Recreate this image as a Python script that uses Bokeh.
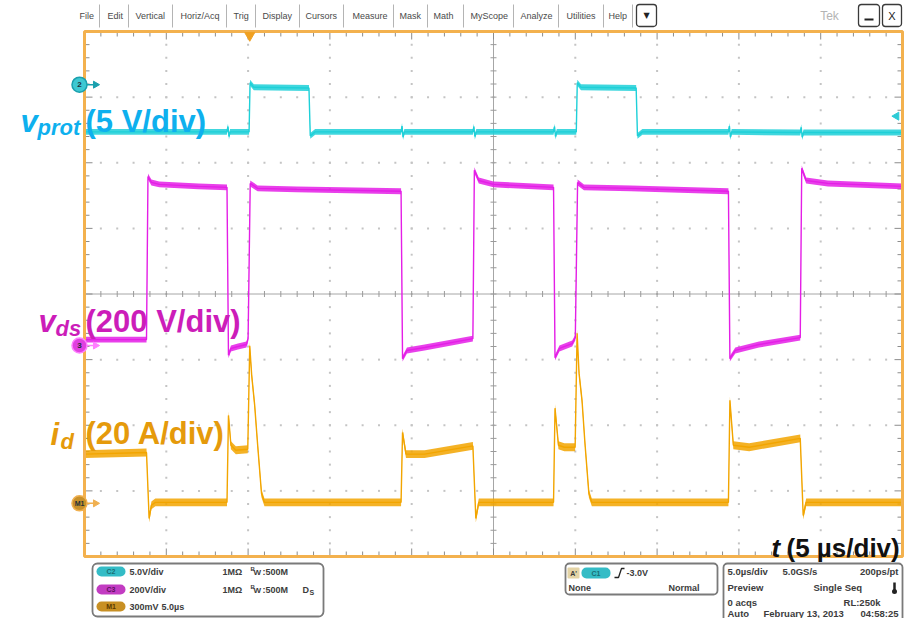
import numpy as np
from bokeh.plotting import figure
from bokeh.models import Range1d
from bokeh.core.properties import value
from bokeh.embed import file_html
from bokeh.resources import INLINE

# ---------------- data ----------------
US_PER_DIV = 5.0            # 5 us/div
N_XDIV, N_YDIV = 10, 8

# C2 : v_prot, 5 V/div, ground marker position (div)
vprot_vdiv, vprot_pos = 5.0, 3.19
vprot_t = [0, 8.70, 8.77, 8.83, 8.90, 10.06, 10.12, 10.35, 13.72, 13.80, 14.10,
           19.35, 19.41, 19.47, 19.55, 23.74, 23.80, 23.86, 23.95, 28.67, 28.73,
           28.79, 28.87, 30.06, 30.12, 30.35, 33.72, 33.80, 34.10, 39.36, 39.42,
           39.48, 39.56, 43.75, 43.81, 43.87, 43.95, 50.0]
vprot_v = [-3.6, -3.6, -3.2, -3.95, -3.6, -3.6, 0.15, -0.2, -0.25, -3.9, -3.6,
           -3.6, -3.15, -4.0, -3.6, -3.6, -3.2, -3.95, -3.6, -3.6, -3.2,
           -3.95, -3.6, -3.6, 0.15, -0.2, -0.25, -3.9, -3.6, -3.6, -3.15,
           -4.0, -3.6, -3.65, -3.25, -4.0, -3.65, -3.65]

# C3 : v_ds, 200 V/div
vds_vdiv, vds_pos = 200.0, -0.785
vds_t = [0, 3.79, 3.88, 4.09, 4.57, 6.97, 8.71, 8.80, 8.95, 9.38, 9.90, 10.00,
         10.13, 10.58, 12.98, 19.35, 19.44, 19.71, 20.79, 23.74, 23.83, 24.10,
         25.00, 28.67, 28.76, 29.03, 29.81, 30.00, 30.14, 30.53, 33.41, 39.36,
         39.45, 39.78, 41.23, 43.75, 43.84, 44.11, 45.43, 50.0]
vds_v = [18, 18, 515, 497, 491, 485, 482, -30, -9, -3, 3, 21,
         494, 479, 476, 470, -40, -15, -6, 21, 534, 503,
         491, 482, -37, -9, 6, 24, 497, 482, 479, 470,
         -40, -15, 3, 24, 540, 503, 494, 485]

# M1 : i_d, 20 A/div
id_adiv, id_pos = 20.0, -3.19
id_t = [0, 3.79, 3.95, 4.09, 4.33, 8.71, 8.80, 8.95, 9.25, 9.98, 10.10, 10.22,
        10.40, 10.58, 10.82, 11.00, 19.35, 19.44, 19.65, 20.79, 23.74, 23.92,
        24.10, 28.67, 28.76, 28.97, 29.33, 29.99, 30.11, 30.23, 30.41, 30.59,
        30.83, 31.01, 39.36, 39.45, 39.66, 40.63, 43.75, 43.93, 44.11, 50.0]
id_a = [15.0, 15.5, -4.6, -0.6, 0.3, 0.3, 26.8, 17.7, 16.2, 16.5, 48.0, 39.0,
        30.0, 18.0, 3.0, 0.3, 0.3, 21.6, 15.0, 15.0, 17.5, -4.6,
        0.3, 0.3, 29.0, 17.7, 17.1, 17.1, 51.8, 39.6, 31.4, 18.3,
        3.0, 0.3, 0.3, 31.4, 17.7, 17.1, 19.8, -3.7, 0.3, 0.3]

trig_time = 10.1     # us
trig_level = -2.4    # V on C2

menu_items = ["File", "Edit", "Vertical", "Horiz/Acq", "Trig", "Display", "Cursors",
              "Measure", "Mask", "Math", "MyScope", "Analyze", "Utilities", "Help"]

# ---------------- layout ----------------
W, H = 904, 618
GRAT_L, GRAT_R = 84.0, 902.0
PX_PER_US = (GRAT_R - GRAT_L) / (N_XDIV * US_PER_DIV)
PX_PER_DIV = 65.625
X0, YC = GRAT_L, 293.5

def fx(px): return (px - X0) / PX_PER_US
def fy(py): return (YC - py) / PX_PER_DIV
def dx(px): return px / PX_PER_US
def dy(px): return px / PX_PER_DIV

p = figure(width=W, height=H, x_range=Range1d(fx(0), fx(W)),
           y_range=Range1d(fy(H), fy(0)), output_backend="svg",
           toolbar_location=None, x_axis_location=None, y_axis_location=None,
           min_border=0)
p.outline_line_color = None
p.background_fill_color = "white"
p.border_fill_color = "white"
for g in p.grid:
    g.visible = False

FONT = "Liberation Sans"

def txt(px, py, s, size, color="#3c3c3c", style="normal", align="left", baseline="middle", font=FONT):
    p.text(x=[fx(px)], y=[fy(py)], text=[s], text_font=value(font),
           text_font_size=f"{size}px", text_font_style=style, text_color=color,
           text_align=align, text_baseline=baseline)

def box(l, r, t, b, line="#7a7a7a", fill="white", radius=0, lw=1.5):
    p.quad(left=[fx(l)], right=[fx(r)], top=[fy(t)], bottom=[fy(b)],
           fill_color=fill, line_color=line, line_width=lw, border_radius=radius)

T_END = N_XDIV * US_PER_DIV
YT = N_YDIV / 2
xs_minor = np.arange(0, T_END + 1e-9, US_PER_DIV / 5)
ys_minor = np.arange(-YT, YT + 1e-9, 0.2)

# dotted graticule
gx, gy = [], []
for k in range(1, N_XDIV):
    if k == N_XDIV // 2:
        continue
    for yy in ys_minor[1:-1]:
        gx.append(k * US_PER_DIV); gy.append(yy)
for j in range(-int(YT) + 1, int(YT)):
    if j == 0:
        continue
    for xx in xs_minor[1:-1]:
        gx.append(xx); gy.append(j)
p.scatter(gx, gy, marker="square", size=2, fill_color="#c4c4c4", line_color=None)

# center cross
p.segment(x0=[0, T_END / 2], y0=[0, -YT], x1=[T_END, T_END / 2], y1=[0, YT],
          line_color="#a6a6a6", line_width=1)
cx = xs_minor[1:-1]
p.segment(x0=cx, y0=[-dy(3)] * len(cx), x1=cx, y1=[dy(3)] * len(cx), line_color="#9a9a9a", line_width=1)
cy = ys_minor[1:-1]
p.segment(x0=[T_END / 2 - dx(3)] * len(cy), y0=cy, x1=[T_END / 2 + dx(3)] * len(cy), y1=cy,
          line_color="#9a9a9a", line_width=1)

# edge ticks
def tlen_x(v):
    return dy(8) if abs(v / US_PER_DIV - round(v / US_PER_DIV)) < 1e-6 else dy(5)
def tlen_y(v):
    return dx(8) if abs(v - round(v)) < 1e-6 else dx(5)
ex0, ey0, ex1, ey1 = [], [], [], []
for xx in xs_minor[1:-1]:
    L = tlen_x(xx)
    ex0 += [xx, xx]; ey0 += [YT, -YT]; ex1 += [xx, xx]; ey1 += [YT - L, -YT + L]
for yy in ys_minor[1:-1]:
    L = tlen_y(yy)
    ex0 += [0, T_END]; ey0 += [yy, yy]; ex1 += [L, T_END - L]; ey1 += [yy, yy]
p.segment(x0=ex0, y0=ey0, x1=ex1, y1=ey1, line_color="#8c8c8c", line_width=1)

# ---------------- traces ----------------
def trace(t, vals, scale, pos, color, half):
    y = pos + np.asarray(vals, dtype=float) / scale
    t = np.asarray(t, dtype=float)
    p.varea(x=t, y1=y - half, y2=y + half, fill_color=color, fill_alpha=0.85)
    p.line(t, y, line_color=color, line_width=1.4)

trace(vprot_t, vprot_v, vprot_vdiv, vprot_pos, "#1ed0d8", 0.045)
trace(vds_t, vds_v, vds_vdiv, vds_pos, "#e41ee6", 0.045)
trace(id_t, id_a, id_adiv, id_pos, "#f2a500", 0.06)

# frame border
p.quad(left=[0], right=[T_END], bottom=[-YT], top=[YT], fill_color=None,
       line_color="#f3b14e", line_width=3)

# trigger position marker
p.scatter([trig_time], [YT - dy(4)], marker="inverted_triangle", size=10,
          fill_color="#f0a020", line_color="#f0a020")
# trigger level marker (right edge)
p.scatter([T_END - dx(6)], [vprot_pos + trig_level / vprot_vdiv], marker="triangle",
          angle=np.pi / 2, size=8, fill_color="#2ccbd6", line_color="#2ccbd6")

# channel ground markers
for pos, fill, edge, lab, fs in [(vprot_pos, "#3ec8d2", "#1aa0ae", "2", 8),
                                 (vds_pos, "#e040e0", "#ff80ff", "3", 8),
                                 (id_pos, "#c8902a", "#f0b050", "M1", 7)]:
    p.segment(x0=[fx(84)], y0=[pos], x1=[fx(93)], y1=[pos], line_color=edge, line_width=1.5)
    p.scatter([fx(95)], [pos], marker="triangle", angle=-np.pi / 2, size=7,
              fill_color=edge, line_color=edge)
    p.scatter([fx(79)], [pos], marker="circle", size=15, fill_color=fill,
              line_color=edge, line_width=1.5)
    p.text(x=[fx(79)], y=[pos], text=[lab], text_font=value(FONT), text_font_size=f"{fs}px",
           text_font_style="bold", text_color="#20303a", text_align="center", text_baseline="middle")

# ---------------- big labels ----------------
C_PROT, C_DS, C_ID = "#0eb0ee", "#cc1db9", "#e59a0b"
txt(20, 121, "v", 31, C_PROT, "bold italic", baseline="alphabetic")
txt(37, 127, "prot", 22, C_PROT, "bold italic", baseline="alphabetic")
txt(85, 121, "(5 V/div)", 31, C_PROT, "bold", baseline="alphabetic")

txt(38, 321, "v", 31, C_DS, "bold italic", baseline="alphabetic")
txt(55, 328, "ds", 22, C_DS, "bold italic", baseline="alphabetic")
txt(85, 321, "(200 V/div)", 31, C_DS, "bold", baseline="alphabetic")

txt(50, 434, "i", 31, C_ID, "bold italic", baseline="alphabetic")
txt(60, 441, "d", 22, C_ID, "bold italic", baseline="alphabetic")
txt(85, 433, "(20 A/div)", 31, C_ID, "bold", baseline="alphabetic")

txt(771, 547, "t", 26, "#111111", "bold italic", baseline="alphabetic")
txt(786, 547, "(5 \u00b5s/div)", 26, "#111111", "bold", baseline="alphabetic")

# ---------------- menu bar ----------------
menu_x = [79, 107, 135, 180, 233, 262, 305, 352, 399, 433, 470, 520, 566, 608]
sep_x = [99, 128, 172, 226, 255, 299, 343, 393, 427, 463, 513, 558, 603, 632]
for name, mx in zip(menu_items, menu_x):
    txt(mx, 15, name, 9, "#4a4a4a")
p.segment(x0=[fx(s) for s in sep_x], y0=[fy(4)] * len(sep_x), x1=[fx(s) for s in sep_x],
          y1=[fy(27)] * len(sep_x), line_color="#b4b4b4", line_width=1)
box(636, 656, 4, 26, line="#3a3a3a", radius=3, lw=1.3)
txt(646, 15, "\u25bc", 8, "#222222", align="center", font="DejaVu Sans")
txt(829, 15, "Tek", 12, "#b4b4b4", align="center")
box(858, 879, 4, 26, line="#3a3a3a", radius=3, lw=1.3)
p.segment(x0=[fx(864)], y0=[fy(19)], x1=[fx(873)], y1=[fy(19)], line_color="#222222", line_width=2)
box(882, 901, 4, 26, line="#3a3a3a", radius=3, lw=1.3)
txt(891.5, 15, "X", 11, "#222222", align="center")

# ---------------- bottom info panel ----------------
box(92, 323, 563, 616, line="#7a7a7a", radius=5, lw=1.8)
rows1 = [571, 589, 606]
for ry, fill, tcol, lab in [(rows1[0], "#34bcc6", "#1b6e74", "C2"),
                            (rows1[1], "#c23cc2", "#5e105e", "C3"),
                            (rows1[2], "#c89024", "#5a3a00", "M1")]:
    box(96, 125, ry - 5, ry + 5, line=None, fill=fill, radius=5)
    txt(110.5, ry, lab, 7, tcol, "bold", align="center")
txt(129, rows1[0], "5.0V/div", 9, style="bold")
txt(129, rows1[1], "200V/div", 9, style="bold")
txt(129, rows1[2], "300mV", 9, style="bold")
txt(161, rows1[2], "5.0\u00b5s", 9, style="bold")
for ry in rows1[:2]:
    txt(222, ry, "1M\u03a9", 9, style="bold")
    txt(250, ry - 3, "B", 6, style="bold")
    txt(253, ry + 1, "W", 8, style="bold")
    txt(262, ry, ":500M", 9, style="bold")
txt(302, rows1[1], "D", 9, style="bold")
txt(309, rows1[1] + 3, "S", 7, style="bold")

box(565, 717, 563, 594, line="#7a7a7a", radius=4, lw=1.8)
box(567, 579, 567, 578, line=None, fill="#e4d4a6", radius=1)
txt(573, 572.5, "A'", 7, "#3a3a3a", "bold", align="center")
box(581, 610, 567, 578, line=None, fill="#34bcc6", radius=5)
txt(595.5, 572.5, "C1", 7, "#1b6e74", "bold", align="center")
p.line([fx(614), fx(618), fx(621), fx(624)], [fy(577), fy(577), fy(568), fy(568)],
       line_color="#222222", line_width=1.3)
txt(626, 572, "-3.0V", 9, style="bold")
txt(568, 587, "None", 9, style="bold")
txt(699, 587, "Normal", 9, style="bold", align="right")

box(723, 902, 563, 640, line="#7a7a7a", radius=4, lw=1.8)
rows3 = [571, 587, 602, 613]
txt(727, rows3[0], "5.0\u00b5s/div", 9.5, style="bold")
txt(782, rows3[0], "5.0GS/s", 9.5, style="bold")
txt(898, rows3[0], "200ps/pt", 9.5, style="bold", align="right")
txt(727, rows3[1], "Preview", 9.5, style="bold")
txt(813, rows3[1], "Single Seq", 9.5, style="bold")
p.segment(x0=[fx(894)], y0=[fy(582)], x1=[fx(894)], y1=[fy(591)], line_color="#222222", line_width=2.5)
p.scatter([fx(894)], [fy(591)], marker="circle", size=5, fill_color="#222222", line_color=None)
txt(727, rows3[2], "0 acqs", 9.5, style="bold")
txt(880, rows3[2], "RL:250k", 9.5, style="bold", align="right")
txt(727, rows3[3], "Auto", 9.5, style="bold")
txt(763, rows3[3], "February 13, 2013", 9.5, style="bold")
txt(898, rows3[3], "04:58:25", 9.5, style="bold", align="right")

open("out.html", "w").write(file_html(p, INLINE))
